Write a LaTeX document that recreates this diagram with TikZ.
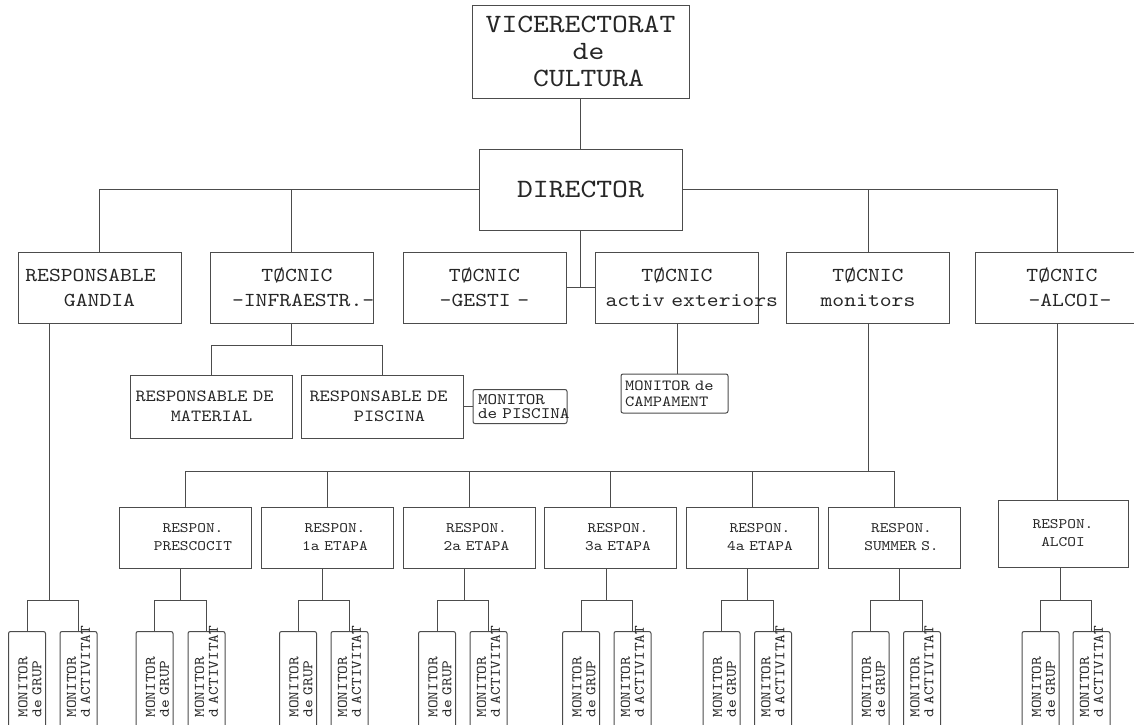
\documentclass[tikz,border=0pt]{standalone}
\usepackage{fontspec}
\setmonofont[FakeStretch=1.14]{lmmono10-regular.otf}
\hyphenpenalty=10000
\exhyphenpenalty=10000
\usetikzlibrary{positioning}
\newcommand{\respshift}{\hspace*{15pt}}

\begin{document}
\begin{tikzpicture}[x=1pt, y=-1pt,
        conn/.style={draw=black!70, line width=1pt},
        box/.style={conn, rectangle, inner sep=0pt, align=center, text=black!85},
        topbox/.style={box, minimum width=217pt, minimum height=93pt, font=\ttfamily\fontsize{26.4}{27}\selectfont},
        dirbox/.style={box, minimum width=203pt, minimum height=81pt, font=\ttfamily\fontsize{26.5}{28}\selectfont},
        unitbox/.style={box, minimum width=163pt, minimum height=71pt, text width=143pt, font=\ttfamily\fontsize{19.8}{25}\selectfont},
        subbox/.style={box, minimum width=162pt, minimum height=63pt, text width=150pt, font=\ttfamily\fontsize{17}{20}\selectfont},
        notebox/.style={box, rounded corners=2pt, align=left},
        respbox/.style={box, minimum width=132pt, minimum height=61pt, text width=120pt, font=\ttfamily\fontsize{14.5}{18}\selectfont},
        monbox/.style={box, rounded corners=2pt, rotate=90, anchor=east, minimum width=104pt, minimum height=37pt, text width=68pt, align=left, font=\ttfamily\fontsize{14.5}{14}\selectfont}
    ]
        \useasboundingbox (0,0) rectangle (1134,724);

        % Top
        \node[topbox] (vice) at (580.5,51.5) {VICERECTORAT\\\hspace*{16pt}de\\\hspace*{16pt}CULTURA};
        \node[dirbox] (director) at (580.5,189.5) {DIRECTOR};

        % Second level
        \node[unitbox] (gandia) at (99.5,287.5) {\hspace*{-18pt}RESPONSABLE\\GANDIA};
        \node[unitbox] (infra) at (291.5,287.5) {\hspace*{11pt}TØCNIC\\\hspace*{12pt}-INFRAESTR.-};
        \node[unitbox] (gesti) at (484.5,287.5) {TØCNIC\\-GESTI~-};
        \node[unitbox] (activ) at (677,287.5) {TØCNIC\\activ~exteriors};
        \node[unitbox] (monitors) at (868,287.5) {TØCNIC\\monitors};
        \node[unitbox] (alcoi) at (1057,287.5) {\hspace*{10pt}TØCNIC\\\hspace*{26pt}-ALCOI-};

        \node[subbox] (material) at (211.5,406.5) {\hspace*{-14pt}RESPONSABLE~DE\\MATERIAL};
        \node[subbox] (piscina) at (382.5,406.5) {\hspace*{-8pt}RESPONSABLE~DE\\\hspace*{14pt}PISCINA};
        \node[notebox, minimum width=94pt, minimum height=34pt, text width=84pt, font=\ttfamily\fontsize{16}{14}\selectfont] (monpiscina) at (520,406.5) {MONITOR\\de~PISCINA};
        \node[notebox, minimum width=107pt, minimum height=39pt, text width=99pt, font=\ttfamily\fontsize{15.5}{16}\selectfont] (campament) at (674.5,393.5) {MONITOR~de\\CAMPAMENT};

        % Respon. boxes
        \node[respbox] (prescocit) at (185.5,537.5) {\respshift RESPON.\\\respshift PRESCOCIT};
        \node[respbox] (etapa1) at (327.5,537.5) {\respshift RESPON.\\\respshift 1a~ETAPA};
        \node[respbox] (etapa2) at (469,537.5) {\respshift RESPON.\\\respshift 2a~ETAPA};
        \node[respbox] (etapa3) at (610.5,537.5) {\respshift RESPON.\\\respshift 3a~ETAPA};
        \node[respbox] (etapa4) at (752.5,537.5) {\respshift RESPON.\\\respshift 4a~ETAPA};
        \node[respbox] (summer) at (894,537.5) {\respshift RESPON.\\\respshift SUMMER~S.};
        \node[respbox, minimum width=130pt, minimum height=67pt] (respalcoi) at (1063,533.5) {RESPON.\\ALCOI};

        % Monitor boxes
        \node[monbox] (gandiagrup) at (27,631) {\rule{0pt}{15pt}MONITOR\\de~GRUP};
        \node[monbox] (gandiaact) at (78.5,631) {MONITOR\\d~ACTIVITAT};
        \node[monbox] (prescgrup) at (154.5,631) {\rule{0pt}{15pt}MONITOR\\de~GRUP};
        \node[monbox] (prescact) at (206.5,631) {MONITOR\\d~ACTIVITAT};
        \node[monbox] (grup1) at (298,631) {\rule{0pt}{15pt}MONITOR\\de~GRUP};
        \node[monbox] (act1) at (349.5,631) {MONITOR\\d~ACTIVITAT};
        \node[monbox] (grup2) at (437,631) {\rule{0pt}{15pt}MONITOR\\de~GRUP};
        \node[monbox] (act2) at (488.5,631) {MONITOR\\d~ACTIVITAT};
        \node[monbox] (grup3) at (581,631) {\rule{0pt}{15pt}MONITOR\\de~GRUP};
        \node[monbox] (act3) at (632.5,631) {MONITOR\\d~ACTIVITAT};
        \node[monbox] (grup4) at (721.5,631) {\rule{0pt}{15pt}MONITOR\\de~GRUP};
        \node[monbox] (act4) at (773,631) {MONITOR\\d~ACTIVITAT};
        \node[monbox] (summergrup) at (870.5,631) {\rule{0pt}{15pt}MONITOR\\de~GRUP};
        \node[monbox] (summeract) at (922,631) {MONITOR\\d~ACTIVITAT};
        \node[monbox] (alcoigrup) at (1040.5,631) {\rule{0pt}{15pt}MONITOR\\de~GRUP};
        \node[monbox] (alcoiact) at (1091.5,631) {MONITOR\\d~ACTIVITAT};

        % Joints
        \coordinate (infraj) at (291.5,345);
        \coordinate (monj) at (868,471);
        \coordinate (gandiaj) at (49,600);
        \coordinate (prescj) at (180,600);
        \coordinate (etapa1j) at (322,600);
        \coordinate (etapa2j) at (464,600);
        \coordinate (etapa3j) at (606,600);
        \coordinate (etapa4j) at (747,600);
        \coordinate (summerj) at (899,600);
        \coordinate (alcoij) at (1060,600);

        % Lines
        \draw[conn] (vice.south -| director.north) -- (director.north);
        \draw[conn] (director.west) -| (gandia.north);
        \draw[conn] (director.west) -| (infra.north);
        \draw[conn] (director.east) -| (monitors.north);
        \draw[conn] (director.east) -| (alcoi.north);
        \draw[conn] (director.south) -- (director.south |- gesti.east);
        \draw[conn] (gesti.east) -- (activ.west);

        \draw[conn] (infra.south) -- (infraj);
        \draw[conn] (material.north) |- (infraj) -| (piscina.north);
        \draw[conn] (piscina.east) -- (monpiscina.west);
        \draw[conn] (activ.south) -- (activ.south |- campament.north);

        \draw[conn] (monitors.south) -- (monj);
        \draw[conn] (prescocit.north) |- (monj) -| (summer.north);
        \draw[conn] (etapa1.north) -- (etapa1.north |- monj);
        \draw[conn] (etapa2.north) -- (etapa2.north |- monj);
        \draw[conn] (etapa3.north) -- (etapa3.north |- monj);
        \draw[conn] (etapa4.north) -- (etapa4.north |- monj);
        \draw[conn] (alcoi.south) -- (alcoi.south |- respalcoi.north);

        \draw[conn] (gandia.south -| gandiaj) -- (gandiaj);
        \draw[conn] (gandiagrup.east) |- (gandiaj) -| (gandiaact.east);
        \draw[conn] (prescocit.south -| prescj) -- (prescj);
        \draw[conn] (prescgrup.east) |- (prescj) -| (prescact.east);
        \draw[conn] (etapa1.south -| etapa1j) -- (etapa1j);
        \draw[conn] (grup1.east) |- (etapa1j) -| (act1.east);
        \draw[conn] (etapa2.south -| etapa2j) -- (etapa2j);
        \draw[conn] (grup2.east) |- (etapa2j) -| (act2.east);
        \draw[conn] (etapa3.south -| etapa3j) -- (etapa3j);
        \draw[conn] (grup3.east) |- (etapa3j) -| (act3.east);
        \draw[conn] (etapa4.south -| etapa4j) -- (etapa4j);
        \draw[conn] (grup4.east) |- (etapa4j) -| (act4.east);
        \draw[conn] (summer.south -| summerj) -- (summerj);
        \draw[conn] (summergrup.east) |- (summerj) -| (summeract.east);
        \draw[conn] (respalcoi.south -| alcoij) -- (alcoij);
        \draw[conn] (alcoigrup.east) |- (alcoij) -| (alcoiact.east);
    \end{tikzpicture}
\end{document}
